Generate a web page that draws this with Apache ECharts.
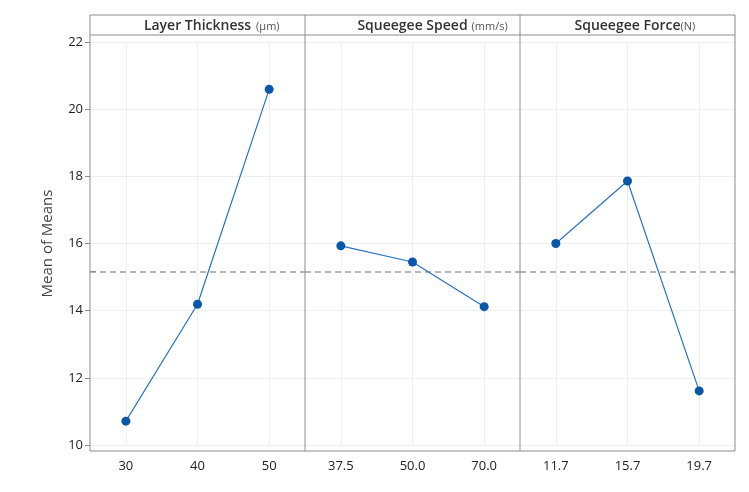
<!DOCTYPE html>
<html>
<head>
<meta charset="utf-8">
<script src="https://cdn.jsdelivr.net/npm/echarts@6/dist/echarts.min.js"></script>
<style>
  html, body { margin: 0; padding: 0; background: #fff; }
  #chart { width: 749px; height: 492px; }
</style>
</head>
<body>
<div id="chart"></div>
<script>
// Main effects plot for means: one panel per factor
const factorNames = ['Layer Thickness', 'Squeegee Speed', 'Squeegee Force'];
const factorUnits = ['(µm)', '(mm/s)', '(N)'];

const thicknessLevels = ['30', '40', '50'];
const speedLevels = ['37.5', '50.0', '70.0'];
const forceLevels = ['11.7', '15.7', '19.7'];

const thicknessMeans = [10.71, 14.19, 20.59];
const speedMeans = [15.93, 15.45, 14.12];
const forceMeans = [16.0, 17.86, 11.61];

const yTicks = { min: 10, max: 22, step: 2 };

const levels = [thicknessLevels, speedLevels, forceLevels];
const means = [thicknessMeans, speedMeans, forceMeans];

// grand mean of all level means (reference line)
const allMeans = [].concat(thicknessMeans, speedMeans, forceMeans);
const grandMean = allMeans.reduce((a, b) => a + b, 0) / allMeans.length;

const frameLeft = 90, frameRight = 735, frameTop = 15, headerBottom = 35, frameBottom = 451;
const panelW = (frameRight - frameLeft) / 3;
const plotTop = 42, plotBottom = 445;
const frameColor = '#8c8c8c';
const gridColor = '#efefef';
const font = 'Open Sans';
const mainFont = '600 14px "Open Sans"';
const unitGaps = [5, 4, 0];

// width of the factor name, so the unit can follow the centred name
const measureCtx = document.createElement('canvas').getContext('2d');
function textWidth(str, f) { measureCtx.font = f; return measureCtx.measureText(str).width; }

const grids = [], xAxes = [], yAxes = [], series = [], graphics = [];

for (let i = 0; i < 3; i++) {
  const left = frameLeft + panelW * i;
  const cx = left + panelW / 2;
  grids.push({ left: left, width: panelW, top: plotTop, height: plotBottom - plotTop, containLabel: false });
  xAxes.push({
    type: 'category', gridIndex: i, data: levels[i], boundaryGap: true,
    axisLine: { show: false }, axisTick: { show: false },
    axisLabel: { color: '#222', fontSize: 13, fontFamily: font, margin: 15 },
    splitLine: { show: false }
  });
  yAxes.push({
    type: 'value', gridIndex: i, min: yTicks.min, max: yTicks.max, interval: yTicks.step,
    axisLine: { show: false },
    axisTick: { show: i === 0, length: 5, lineStyle: { color: frameColor } },
    axisLabel: { show: i === 0, color: '#222', fontSize: 13, fontFamily: font, margin: 7 },
    splitLine: { show: true, lineStyle: { color: gridColor, width: 1 } },
    name: i === 0 ? 'Mean of Means' : '',
    nameLocation: 'middle', nameRotate: 90, nameGap: 35,
    nameTextStyle: { color: '#444', fontSize: 15, fontFamily: font }
  });
  // vertical grid lines through each factor level
  series.push({
    type: 'line', xAxisIndex: i, yAxisIndex: i, data: [],
    silent: true, z: 1,
    markLine: {
      silent: true, symbol: 'none', label: { show: false },
      lineStyle: { color: gridColor, type: 'solid', width: 1 },
      data: levels[i].map(l => ({ xAxis: l }))
    }
  });
  series.push({
    type: 'line', xAxisIndex: i, yAxisIndex: i, data: means[i],
    symbol: 'circle', symbolSize: 9,
    itemStyle: { color: '#0a56a8' },
    lineStyle: { color: '#2a72c4', width: 1.2 },
    z: 5,
    markLine: {
      silent: true, symbol: 'none', label: { show: false },
      lineStyle: { color: '#9e9e9e', type: [6, 4], width: 1.5 },
      data: [{ yAxis: grandMean }]
    }
  });
  // header strip title: factor name centred, unit appended after it
  const ty = (frameTop + headerBottom) / 2 + 1;
  const mw = textWidth(factorNames[i], mainFont);
  graphics.push({
    type: 'text', x: cx, y: ty,
    style: { text: factorNames[i], align: 'center', verticalAlign: 'middle',
      fontSize: 14, fontWeight: 600, fill: '#333', fontFamily: font }
  });
  graphics.push({
    type: 'text', x: cx + mw / 2 + unitGaps[i], y: ty + 1,
    style: { text: factorUnits[i], align: 'left', verticalAlign: 'middle',
      fontSize: 11, fill: '#555', fontFamily: font }
  });
  if (i > 0) {
    graphics.push({
      type: 'line', shape: { x1: left, y1: frameTop, x2: left, y2: frameBottom },
      style: { stroke: frameColor, lineWidth: 1 }, z: 10
    });
  }
}

// outer frame and header divider
graphics.push({
  type: 'rect', shape: { x: frameLeft, y: frameTop, width: frameRight - frameLeft, height: frameBottom - frameTop },
  style: { fill: 'none', stroke: frameColor, lineWidth: 1 }, z: 10
});
graphics.push({
  type: 'line', shape: { x1: frameLeft, y1: headerBottom, x2: frameRight, y2: headerBottom },
  style: { stroke: frameColor, lineWidth: 1 }, z: 10
});

const chart = echarts.init(document.getElementById('chart'), null, { renderer: 'canvas' });
chart.setOption({
  animation: false,
  backgroundColor: '#fff',
  textStyle: { fontFamily: font },
  grid: grids,
  xAxis: xAxes,
  yAxis: yAxes,
  series: series,
  graphic: graphics
});

// small inward tick marking the grand mean on the left axis
const gy = chart.convertToPixel({ yAxisIndex: 0 }, grandMean);
chart.setOption({
  graphic: graphics.concat([{
    type: 'line', shape: { x1: frameLeft, y1: gy, x2: frameLeft + 6, y2: gy },
    style: { stroke: frameColor, lineWidth: 1 }, z: 10
  }])
});
</script>
</body>
</html>
